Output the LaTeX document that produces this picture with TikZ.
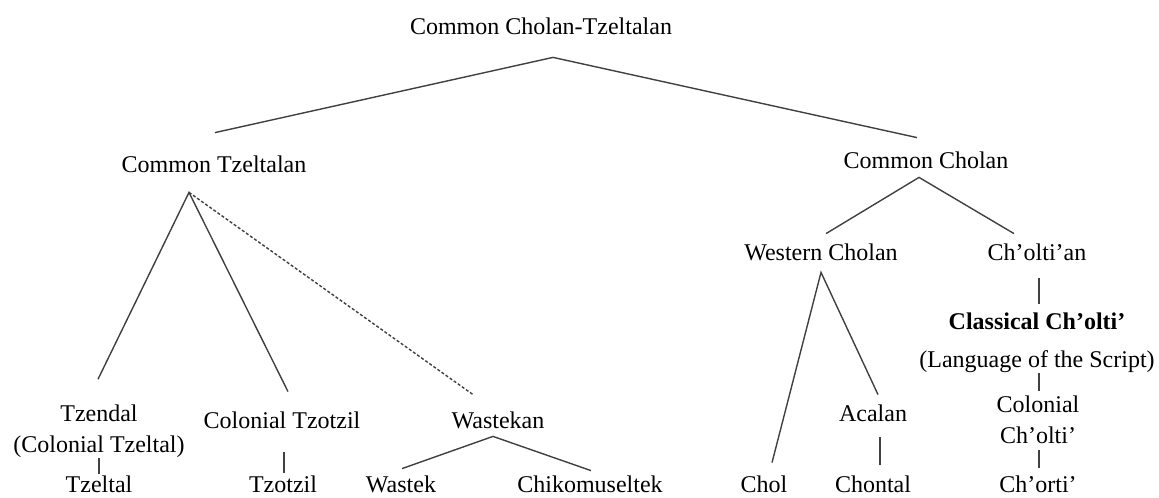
\documentclass[tikz,border=0pt]{standalone}
\usepackage{fontspec}
\setmainfont{Liberation Serif}
\usepackage{tikz}
\tikzset{
  lang/.style={
    inner sep=0pt,
    anchor=base,
    text height=8pt,
    text depth=2.5pt,
    font=\fontsize{12}{15.5}\selectfont
  },
  langtwo/.style={
    inner sep=0pt,
    align=center,
    font=\fontsize{12}{15.5}\selectfont
  },
  branch/.style={line width=0.7pt, draw=black!75},
  uncertain/.style={branch, dash pattern=on 1.5pt off 1pt}
}

\begin{document}
\begin{tikzpicture}[x=0.5pt, y=-0.5pt]
  \useasboundingbox (0,0) rectangle (1159,497);
  % proto-languages
  \node[lang] (root) at (541,35) {Common Cholan-Tzeltalan};
  \node[lang] (ctz) at (214,173) {Common Tzeltalan};
  \node[lang] (ccho) at (926,169) {Common Cholan};
  \node[lang] (wcho) at (821,260) {Western Cholan};
  \node[lang] (choltian) at (1037,260) {Ch’olti’an};
  % Tzeltalan branch
  \node[langtwo] (tzendal) at (99,431) {Tzendal\\(Colonial Tzeltal)};
  \node[lang] (coltzotzil) at (282,428) {Colonial Tzotzil};
  \node[lang] (wastekan) at (498,428) {Wastekan};
  \node[lang] (tzeltal) at (99,492) {Tzeltal};
  \node[lang] (tzotzil) at (283,492) {Tzotzil};
  \node[lang] (wastek) at (401,492) {Wastek};
  \node[lang] (chiko) at (590,492) {Chikomuseltek};
  % Cholan branch
  \node[lang] (acalan) at (873,421) {Acalan};
  \node[lang] (chol) at (764,492) {Chol};
  \node[lang] (chontal) at (873,492) {Chontal};
  \node[langtwo] (classical) at (1037,343) {\textbf{Classical Ch’olti’}\\[3.5pt](Language of the Script)};
  \node[langtwo] (colcholti) at (1038,420) {Colonial\\Ch’olti’};
  \node[lang] (chorti) at (1038,492) {Ch’orti’};

  \draw[branch] ([shift={(1,-24)}]ctz.north) -- ([shift={(12,17)}]root.south) -- ([shift={(-9,-15)}]ccho.north);
  \draw[branch] ([shift={(-1,-25)}]tzendal.north) -- ([shift={(-25,14)}]ctz.south) -- ([shift={(6,-20)}]coltzotzil.north);
  \draw[uncertain] ([shift={(-25,14)}]ctz.south) -- ([shift={(-25,-17)}]wastekan.north);
  \draw[branch] (tzendal.south) -- ([shift={(0,-2)}]tzeltal.north);
  \draw[branch] ([shift={(2,19)}]coltzotzil.south) -- ([shift={(1,-3)}]tzotzil.north);
  \draw[branch] ([shift={(1,-7)}]wastek.north) -- ([shift={(-5,3)}]wastekan.south) -- ([shift={(1,-5)}]chiko.north);
  \draw[branch] ([shift={(5,-10)}]wcho.north) -- ([shift={(-7,3)}]ccho.south) -- ([shift={(-23,-10)}]choltian.north);
  \draw[branch] ([shift={(8,-13)}]chol.north) -- ([shift={(0,7)}]wcho.south) -- ([shift={(5,-10)}]acalan.north);
  \draw[branch] ([shift={(7,11)}]acalan.south) -- ([shift={(7,-11)}]chontal.north);
  \draw[branch] ([shift={(2,13)}]choltian.south) -- ([shift={(2,-9)}]classical.north);
  \draw[branch] ([shift={(2,0)}]classical.south) -- ([shift={(1,-5)}]colcholti.north);
  \draw[branch] ([shift={(1,6)}]colcholti.south) -- ([shift={(1,-8)}]chorti.north);
\end{tikzpicture}
\end{document}
